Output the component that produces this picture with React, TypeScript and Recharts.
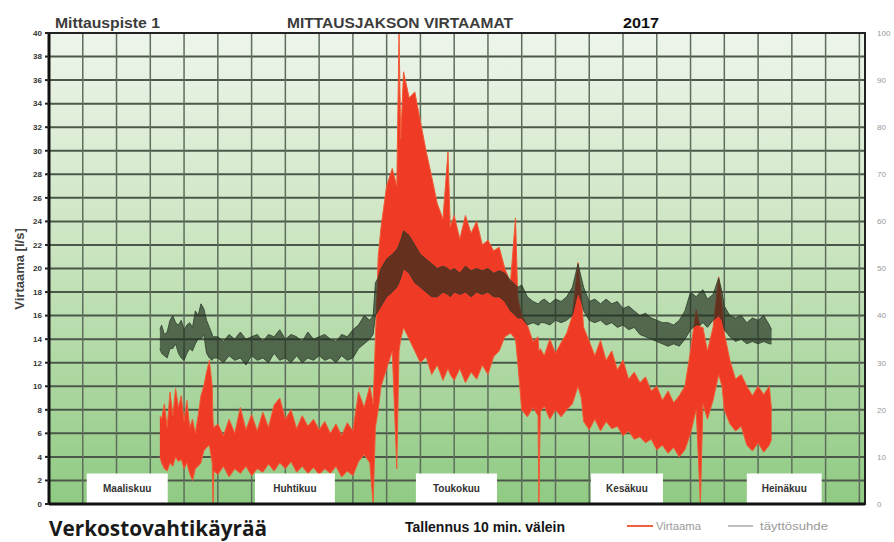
import { ComposedChart, Area, XAxis, YAxis, CartesianGrid, ReferenceArea } from 'recharts'

// day index along the measuring period (0 = left edge of the plot)
const days = [
  19.7, 20, 20.5, 21, 21.5, 22, 22.5, 23, 23.5, 24, 24.5, 25, 25.5, 26, 26.5, 27, 27.5, 28, 28.5, 29, 29.15, 29.3,
  30, 31, 32, 33, 34, 35, 36, 37, 38, 39, 40, 41, 42, 43, 44, 45, 46, 47, 48, 49, 50, 51, 52, 53, 54, 55, 56, 57,
  57.6, 58, 58.5, 59, 60, 61, 61.8, 62.2, 62.5, 63, 64, 65, 66, 67, 68, 69, 70, 70.9, 71.3, 72, 73, 74, 75, 76, 77, 78, 79, 80, 81, 82, 82.9, 83.3,
  84, 85, 86, 86.9, 87.05, 87.3, 88, 89, 90, 91, 92, 93, 94, 94.6, 95, 96, 97, 98, 99, 100, 101, 102, 103, 104, 105, 106, 107, 108, 109, 110, 111, 112, 113,
  114, 115, 115.75, 116.2, 117, 118, 119, 119.6, 120, 121, 122, 123, 124, 125, 126, 127, 128, 128.4,
]

// Virtaama [l/s], lower and upper edge of the noisy trace
const flowLow = [
  4, 3.5, 3, 2.8, 3.5, 3.2, 4, 3.6, 3.8, 3, 3.5, 2.6, 2, 3, 3.2, 3.5, 4.5, 4.8, 5, 3.5, 0, 2.8,
  2.5, 3.2, 2.3, 3, 2.6, 3.2, 2.4, 3, 2.7, 3.4, 2.8, 3.5, 3, 3.6, 2.7, 3.2, 2.6, 3.1, 2.5, 3, 2.6, 3.2, 2.3, 2.8, 2.4, 3.6, 4.2, 3.5,
  0, 6.5, 8, 10, 11.5, 13, 3, 13, 14, 15, 14, 13, 12, 12.5, 11, 11.8, 10.5, 11.5, 11, 10.5, 11.5, 10.3, 11.2, 10.6, 11.8, 11, 12.5, 13, 14.2, 14.5, 14, 12,
  8, 7.4, 8.2, 7.5, 0, 7.8, 8.3, 7.2, 8, 7.4, 8, 8.5, 10, 9, 7, 6.3, 7.2, 6.2, 7, 6.4, 6.6, 5.8, 6.2, 5.5, 5.7, 5.2, 5.5, 4.6, 5, 4.3, 4.8, 4, 4.6,
  6, 8, 0, 8.5, 7.2, 8.8, 11, 10, 8, 6.8, 6.2, 6.6, 5, 4.5, 5.2, 4.4, 5, 5.5,
]
const flowHigh = [
  7.5, 7.2, 8.5, 6.5, 9.5, 7.5, 9.8, 8.2, 9.2, 7, 8.8, 6.5, 7.2, 6, 7.5, 9.2, 10, 11.2, 12.2, 10, 7, 6.5,
  6.8, 5.8, 7.2, 6, 8.2, 6.3, 7.6, 6.2, 7.8, 6.5, 8.4, 9, 7.2, 8, 6.4, 7.5, 6.6, 7.2, 6.3, 7, 6, 6.8, 5.8, 6.9, 6.2, 9.5, 8.2, 10,
  8.5, 14, 21, 23.5, 27, 28.5, 27, 40, 31, 36.7, 34.5, 35, 32.5, 30, 27.8, 25.5, 24.2, 29.9, 23.5, 24.5, 22.5, 24.5, 23, 24, 22, 22.4, 21.5, 21.8, 20, 18.8, 24.3, 17.5,
  16, 15.2, 13.8, 14.2, 13, 13.2, 12.6, 14, 12.8, 13.7, 14.5, 16, 20.5, 17.5, 15, 13.8, 12.6, 13.9, 12.2, 13, 11.4, 12.2, 10.6, 11.2, 10.3, 10.8, 9.6, 10, 8.8, 9.6, 8.6, 9.2, 10,
  13, 16.5, 15, 15, 13, 15, 19.3, 17, 14.5, 12.2, 10.6, 11, 10, 9.2, 10, 9.3, 10, 8,
]

// täyttösuhde [%], lower and upper edge
const fillLow = [
  33, 32, 31.5, 31, 33, 33, 34, 32, 31, 30.5, 32, 33, 32.5, 34, 35, 35, 36, 32, 31, 30.5, 31, 31,
  31, 30, 31.5, 30.5, 31, 29.5, 31.5, 30.5, 31, 30, 32, 30.5, 31, 30, 31.5, 30, 31, 30.5, 31.5, 30.5, 31, 30, 31.5, 30.5, 31, 33, 34, 35,
  36, 40, 41, 42, 44, 45, 46, 47, 48, 50, 49, 47, 46, 45, 44, 44, 45, 44.5, 44, 45, 44.5, 45, 44, 45, 44.5, 45, 44, 44, 43, 41, 40, 39.5,
  39.5, 38, 38.5, 38, 38, 38.5, 38.5, 38, 39, 38.5, 39, 40, 45, 43, 41, 39, 38.5, 39, 38, 38.5, 37.5, 38, 37, 37.5, 36, 35.5, 35, 34.5, 34, 33.5, 34, 33.5, 35,
  37, 38, 38, 38.5, 37.5, 39, 40, 39, 37, 35.5, 34.5, 35, 34, 34.5, 34, 34.5, 34, 34,
]
const fillHigh = [
  37, 38, 36, 36.5, 39, 40, 38.5, 38, 39, 37, 38, 38.5, 37.5, 41, 40, 42.5, 41.5, 39, 37.5, 36, 35.5, 35.5,
  35.5, 34.5, 36, 35, 36.5, 35, 35.5, 36, 34.5, 36, 35.5, 37, 35, 36, 35.5, 34.5, 36.5, 35, 35.5, 36, 35, 34.5, 36, 35.5, 37, 38, 40, 39,
  40, 47, 48, 50, 52, 53, 54, 55, 56, 58, 57, 55, 53, 52, 51, 50, 50.5, 50, 49.5, 50, 49, 50.5, 49.5, 50, 49.5, 50, 49, 49.5, 49, 47.5, 46.5, 46,
  46.5, 44, 43, 42.5, 42.5, 43, 43.5, 42.5, 43.5, 43, 44, 46, 51, 48, 46, 43, 43.5, 42.5, 43.5, 42.5, 43, 41.5, 42, 41, 40, 40.5, 39.5, 39, 38.5, 38.5, 38, 39, 41,
  45, 44, 45, 45.5, 43.5, 44.5, 48, 45, 42, 40, 39.5, 40, 38.5, 39.5, 39, 40, 38, 37,
]

const dayTicks = [0, 6, 12, 18, 24, 30, 36, 42, 48, 54, 60, 66, 72, 78, 84, 90, 96, 102, 108, 114, 120, 126, 132, 138, 144]
const flowTicks = [0, 2, 4, 6, 8, 10, 12, 14, 16, 18, 20, 22, 24, 26, 28, 30, 32, 34, 36, 38, 40]
const pctTicks = [0, 10, 20, 30, 40, 50, 60, 70, 80, 90, 100]

const months = ['Maaliskuu', 'Huhtikuu', 'Toukokuu', 'Kesäkuu', 'Heinäkuu']
const monthStart = [6.7, 36.6, 65.2, 96.3, 124]
const monthEnd = [21.1, 50.8, 79.6, 109.1, 137.3]

const rows = days.map((day, i) => ({
  day,
  flow: [flowLow[i], flowHigh[i]],
  fill: [fillLow[i], fillHigh[i]],
}))

const FONT = '"Liberation Sans", Arial, sans-serif'
const W = 894
const H = 542
const MARGIN = { top: 33, right: 0, bottom: 37, left: 0 }

const hLine = (p: any) => (
  <line key={p.key} x1={p.x1} y1={p.y1} x2={p.x2} y2={p.y2} stroke="#4b5849" strokeWidth={2} />
)
const vLine = (p: any) => (
  <line key={p.key} x1={p.x1} y1={p.y1} x2={p.x2} y2={p.y2} stroke="#5f6e5c" strokeWidth={1.5} />
)
// axis keeps its ticks (the grid needs them) but draws no labels
const noTick = () => <g />
const hiddenTick = { fill: 'transparent', fontSize: 8, fontFamily: FONT }

// bottom layer: gradient + grid, same axes so the plot box matches the top layer
function GridLayer() {
  return (
    <ComposedChart width={W} height={H} data={rows} margin={MARGIN}>
      <defs>
        <linearGradient id="plotBg" x1="0" y1="0" x2="0" y2="1">
          <stop offset="0%" stopColor="#eef5eb" />
          <stop offset="45%" stopColor="#cbe5c1" />
          <stop offset="100%" stopColor="#8fca82" />
        </linearGradient>
      </defs>
      <CartesianGrid yAxisId="flow" fill="url(#plotBg)" horizontal={hLine} vertical={vLine} horizontalValues={flowTicks} />
      <XAxis dataKey="day" type="number" domain={[0, 145]} ticks={dayTicks} interval={0} tick={noTick} tickLine={false} axisLine={false} height={1} />
      <YAxis yAxisId="flow" domain={[0, 40]} ticks={flowTicks} interval={0} width={49} tick={hiddenTick} tickLine={false} axisLine={false} />
      <YAxis yAxisId="pct" orientation="right" domain={[0, 100]} ticks={pctTicks} interval={0} width={29} tick={hiddenTick} tickLine={false} axisLine={false} />
      {/* invisible copies bind the y axes in this layer */}
      <Area yAxisId="flow" type="linear" dataKey="flow" fill="none" fillOpacity={0} stroke="none" isAnimationActive={false} />
      <Area yAxisId="pct" type="linear" dataKey="fill" fill="none" fillOpacity={0} stroke="none" isAnimationActive={false} />
    </ComposedChart>
  )
}

export default function App() {
  return (
    <div style={{ position: 'absolute', left: 0, top: 0, width: W, height: H, background: '#fff', fontFamily: FONT }}>
      <div style={{ position: 'absolute', left: 0, top: 0 }}>
        <GridLayer />
      </div>
      <div style={{ position: 'absolute', left: 0, top: 0 }}>
        <ComposedChart width={W} height={H} data={rows} margin={MARGIN}>
          <XAxis
            dataKey="day"
            type="number"
            domain={[0, 145]}
            ticks={dayTicks}
            interval={0}
            tick={noTick}
            tickLine={false}
            height={1}
            axisLine={{ stroke: '#111', strokeWidth: 3 }}
          />
          <YAxis
            yAxisId="flow"
            domain={[0, 40]}
            ticks={flowTicks}
            width={49}
            interval={0}
            tickSize={4}
            tickMargin={3}
            tickLine={{ stroke: '#222', strokeWidth: 2 }}
            axisLine={{ stroke: '#111', strokeWidth: 3 }}
            tick={{ fill: '#333', fontSize: 8, fontWeight: 700, fontFamily: FONT }}
          />
          <YAxis
            yAxisId="pct"
            orientation="right"
            domain={[0, 100]}
            ticks={pctTicks}
            width={29}
            interval={0}
            axisLine={false}
            tickLine={false}
            tickMargin={6}
            tick={{ fill: '#9a9a9a', fontSize: 8, fontFamily: FONT, textAnchor: 'start' }}
          />
          <Area
            yAxisId="flow"
            type="linear"
            dataKey="flow"
            fill="#ef3a25"
            fillOpacity={1}
            stroke="#f25a34"
            strokeWidth={1}
            isAnimationActive={false}
          />
          <Area
            yAxisId="pct"
            type="linear"
            dataKey="fill"
            fill="#1f2c1d"
            fillOpacity={0.66}
            stroke="#2c3a2a"
            strokeWidth={0.8}
            isAnimationActive={false}
          />
          {months.map((m, i) => (
            <ReferenceArea
              key={m}
              yAxisId="flow"
              x1={monthStart[i]}
              x2={monthEnd[i]}
              y1={0}
              y2={2.6}
              fill="#ffffff"
              fillOpacity={1}
              stroke="none"
              label={{ value: m, position: 'center', fill: '#333', fontSize: 10, fontWeight: 700, fontFamily: FONT }}
            />
          ))}
          <ReferenceArea yAxisId="flow" x1={0} x2={145} y1={0} y2={40} fill="none" stroke="#222" strokeWidth={2} />
        </ComposedChart>
      </div>

      <svg width={W} height={H} style={{ position: 'absolute', left: 0, top: 0, pointerEvents: 'none' }}>
        <g fontFamily={FONT} fontWeight={700}>
          <text x={55} y={28} fontSize={14} fill="#3c3c3c" textLength={105} lengthAdjust="spacingAndGlyphs">Mittauspiste 1</text>
          <text x={287} y={28} fontSize={14} fill="#3c3c3c" textLength={226} lengthAdjust="spacingAndGlyphs">MITTAUSJAKSON VIRTAAMAT</text>
          <text x={623} y={28} fontSize={15} fill="#111" textLength={36} lengthAdjust="spacingAndGlyphs">2017</text>
          <text
            x={19}
            y={269}
            fontSize={13}
            fill="#444"
            textAnchor="middle"
            dominantBaseline="central"
            transform="rotate(-90 19 269)"
          >
            Virtaama [l/s]
          </text>
          <text x={405} y={532} fontSize={14} fill="#151515" textLength={160} lengthAdjust="spacingAndGlyphs">Tallennus 10 min. välein</text>
        </g>
        <text x={49} y={536} fontFamily='"Open Sans", "Noto Sans", sans-serif' fontWeight={700} fontSize={21} fill="#1a1a1a" textLength={218} lengthAdjust="spacingAndGlyphs">
          Verkostovahtikäyrää
        </text>
        <line x1={627} y1={526} x2={653} y2={526} stroke="#f06040" strokeWidth={2} />
        <text x={656} y={530} fontFamily={FONT} fontSize={10} fill="#9a9a9a" textLength={45} lengthAdjust="spacingAndGlyphs">Virtaama</text>
        <line x1={728} y1={526} x2={753} y2={526} stroke="#aaaaaa" strokeWidth={1.5} />
        <text x={760} y={530} fontFamily={FONT} fontSize={10} fill="#9a9a9a" textLength={68} lengthAdjust="spacingAndGlyphs">täyttösuhde</text>
      </svg>
    </div>
  )
}
